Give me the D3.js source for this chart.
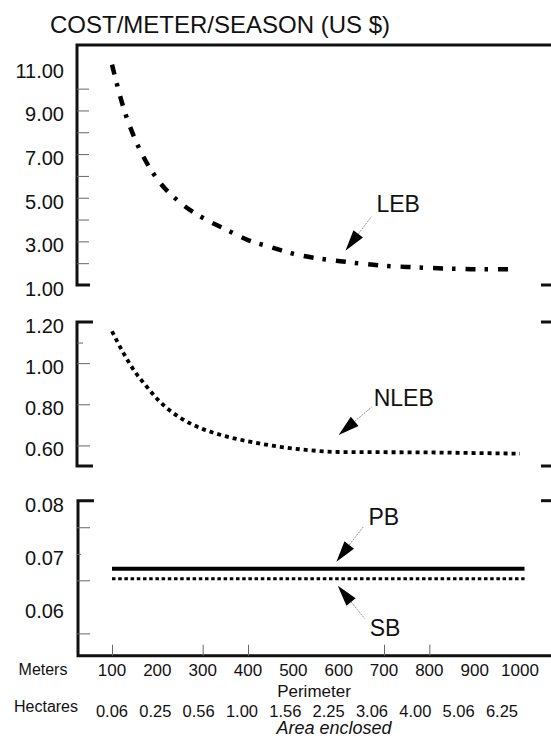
<!DOCTYPE html>
<html>
<meta charset="utf-8">
<head>
  <title>Cost per meter per season</title>
</head>
<style>
body { margin: 0; background: #fff; }
text {
  font-family: "Liberation Sans", Arial, Helvetica, sans-serif;
  fill: #111;
}
.frame { stroke: #111; fill: none; stroke-width: 3; }
</style>
<body>
  <svg width="551" height="738"></svg>

  <script src="https://cdn.jsdelivr.net/npm/d3@7"></script>
  <script>
// perimeter in meters (x) and matching area labels
var meters = [100, 200, 300, 400, 500, 600, 700, 800, 900, 1000];
var hectares = ["0.06", "0.25", "0.56", "1.00", "1.56", "2.25", "3.06", "4.00", "5.06", "6.25"];

// LEB curve
var lebX = [100, 125, 150, 175, 200, 250, 300, 350, 400, 450, 500, 550, 600, 650, 700, 750, 800, 850, 900, 990];
var lebY = [11.1, 9.15, 7.72, 6.66, 5.85, 4.78, 4.08, 3.56, 3.06, 2.74, 2.43, 2.23, 2.10, 1.98, 1.88, 1.83, 1.78, 1.75, 1.72, 1.72];

// NLEB curve
var nlebX = [100, 125, 150, 175, 200, 250, 300, 350, 400, 450, 500, 550, 600, 700, 800, 900, 1000];
var nlebY = [1.155, 1.05, 0.96, 0.89, 0.825, 0.735, 0.68, 0.645, 0.62, 0.60, 0.585, 0.574, 0.568, 0.567, 0.566, 0.563, 0.56];

// PB and SB are flat
var pbX = [100, 1010], pbY = [0.0672, 0.0672];
var sbX = [100, 1010], sbY = [0.0653, 0.0653];

// axis labels / ticks for each panel
var labels1 = [11, 9, 7, 5, 3, 1], ticks1 = [10, 9, 8, 7, 6, 5, 4, 3, 2];
var labels2 = [1.2, 1.0, 0.8, 0.6], ticks2 = [1.1, 1.0, 0.8, 0.6];
var labels3 = [0.08, 0.07, 0.06], ticks3 = [0.075, 0.065, 0.055];
var xTicks = [100, 300, 400, 700, 800];

var svg = d3.select("svg");
var left = 77, right = 551;

var x = d3.scaleLinear().domain([100, 1000]).range([112, 520]);
var x2 = d3.scalePoint().domain(hectares).range([112, 502]);

var y1 = d3.scaleLinear().domain([1, 12]).range([285, 45]);
var y2 = d3.scaleLinear().domain([0.5, 1.2]).range([466, 322]);
var y3 = d3.scaleLinear().domain([0.0508, 0.08]).range([655.7, 500.7]);

// title
svg.append("text")
  .attr("x", 50).attr("y", 33)
  .style("font-size", "24px")
  .text("COST/METER/SEASON (US $)");

function yLabels(y, vals, fmt) {
  svg.append("g").selectAll("text")
    .data(vals).enter().append("text")
    .attr("x", 64)
    .attr("y", function(d) { return y(d) + 4; })
    .attr("dy", "0.35em")
    .attr("text-anchor", "end")
    .style("font-size", "20px")
    .text(function(d) { return d3.format(fmt)(d); });
}

function yTicks(y, vals, len) {
  svg.append("g")
    .attr("transform", "translate(" + left + ",0)")
    .call(d3.axisLeft(y).tickValues(vals).tickSize(-len).tickFormat(""))
    .call(function(g) { g.select(".domain").remove(); })
    .selectAll("line").attr("stroke", "#666");
}

// panel 1 frame: top border across, thick left axis, short brackets
svg.append("path").attr("class", "frame")
  .attr("d", "M" + right + "," + y1(12) + "H" + left + "V" + y1(1) + "H" + (left + 13));
svg.append("path").attr("class", "frame").attr("stroke-width", 2.5)
  .attr("d", "M541," + y1(1) + "H" + right);
yTicks(y1, ticks1, 12);
yLabels(y1, labels1, ".2f");

// panel 2 frame
svg.append("path").attr("class", "frame")
  .attr("d", "M" + (left + 16) + "," + y2(1.2) + "H" + left + "V" + y2(0.5) + "H" + (left + 16));
svg.append("path").attr("class", "frame").attr("stroke-width", 2.5)
  .attr("d", "M541," + y2(1.2) + "H" + right + "M541," + y2(0.5) + "H" + right);
yTicks(y2, ticks2.slice(1), 13);
yTicks(y2, ticks2.slice(0, 1), 6);
yLabels(y2, labels2, ".2f");

// panel 3 frame + bottom axis
svg.append("path").attr("class", "frame")
  .attr("d", "M" + (left + 17) + "," + y3(0.08) + "H" + (left + 1) + "V" + y3.range()[0] + "H" + right);
svg.append("path").attr("class", "frame").attr("stroke-width", 2.5)
  .attr("d", "M541," + y3(0.08) + "H" + right);
yTicks(y3, ticks3, 13);
yTicks(y3, [0.07], 4);
yLabels(y3, labels3, ".2f");

svg.append("g")
  .attr("transform", "translate(0," + y3.range()[0] + ")")
  .call(d3.axisTop(x).tickValues(xTicks).tickSize(11).tickFormat(""))
  .call(function(g) { g.select(".domain").remove(); })
  .selectAll("line").attr("stroke", "#666");

// series
function drawLine(xs, ys, y, dash, width) {
  var pts = xs.map(function(d, i) { return [d, ys[i]]; });
  svg.append("path")
    .datum(pts)
    .attr("fill", "none")
    .attr("stroke", "#000")
    .attr("stroke-width", width)
    .attr("stroke-dasharray", dash)
    .attr("d", d3.line()
      .x(function(d) { return x(d[0]); })
      .y(function(d) { return y(d[1]); })
      .curve(d3.curveMonotoneX));
}
drawLine(lebX, lebY, y1, "10,9,3.5,10", 4.5);
drawLine(nlebX, nlebY, y2, "4,4", 3.8);
drawLine(pbX, pbY, y3, null, 4);
drawLine(sbX, sbY, y3, "3.5,2.7", 3.2);

// annotations: arrow tip near the curve at x ~ 600, label off to the upper/lower right
function annotate(name, px, py, dx, dy, lx, ly) {
  var len = Math.sqrt(dx * dx + dy * dy), ux = dx / len, uy = dy / len;
  var bx = px + ux * 21, by = py + uy * 21;
  svg.append("path")
    .attr("fill", "#000")
    .attr("d", "M" + px + "," + py +
      "L" + (bx - uy * 6) + "," + (by + ux * 6) +
      "L" + (bx + uy * 6) + "," + (by - ux * 6) + "Z");
  svg.append("line")
    .attr("x1", bx).attr("y1", by)
    .attr("x2", px + dx).attr("y2", py + dy)
    .attr("stroke", "#777").attr("stroke-width", 0.8)
    .attr("stroke-dasharray", "2,1");
  svg.append("text")
    .attr("x", px + lx).attr("y", py + ly)
    .style("font-size", "23px")
    .text(name);
}
annotate("LEB", x(615), y1(2.07) - 11, 26, -34, 31, -39);
annotate("NLEB", x(600), y2(0.568) - 17, 33, -28, 35, -29);
annotate("PB", x(595), y3(0.0672) - 7, 27, -35, 32, -37);
annotate("SB", x(598), y3(0.0653) + 7, 27, 33, 32, 50);

// x axis labels
svg.append("text").attr("x", 43).attr("y", 675).attr("text-anchor", "middle")
  .style("font-size", "16px").text("Meters");
svg.append("g").selectAll("text")
  .data(meters).enter().append("text")
  .attr("x", function(d) { return x(d); })
  .attr("y", 676)
  .attr("text-anchor", "middle")
  .style("font-size", "17px")
  .text(function(d) { return d; });
svg.append("text").attr("x", 314).attr("y", 697).attr("text-anchor", "middle")
  .style("font-size", "17px").text("Perimeter");

svg.append("text").attr("x", 46).attr("y", 712).attr("text-anchor", "middle")
  .style("font-size", "16px").text("Hectares");
svg.append("g").selectAll("text")
  .data(hectares).enter().append("text")
  .attr("x", function(d) { return x2(d); })
  .attr("y", 716.5)
  .attr("text-anchor", "middle")
  .style("font-size", "16.5px")
  .text(function(d) { return d; });
svg.append("text").attr("x", 334).attr("y", 734).attr("text-anchor", "middle")
  .style("font-size", "18px").style("font-style", "italic").text("Area enclosed");
  </script>
</body>
</html>
